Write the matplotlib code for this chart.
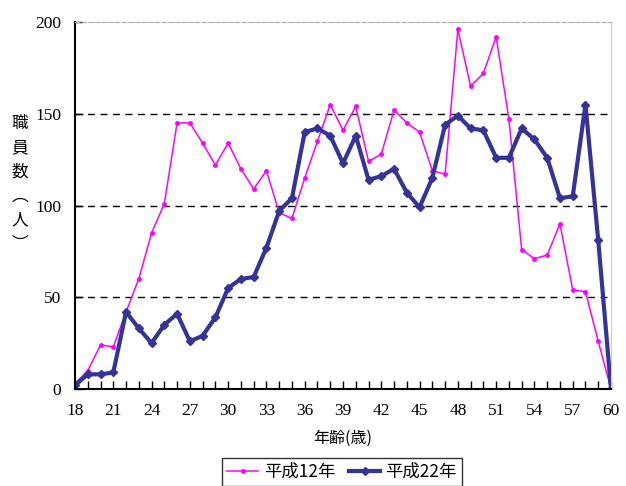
import matplotlib
matplotlib.use('Agg')
import matplotlib.pyplot as plt

plt.rcParams['font.family'] = ['Noto Sans CJK JP', 'DejaVu Sans']

# 年齢別職員数
ages = list(range(18, 61))
h12 = [3, 10, 24, 23, 42, 60, 85, 101, 145, 145, 134, 122, 134, 120, 109, 119,
       96, 93, 115, 135, 155, 141, 154, 124, 128, 152, 145, 140, 119, 117, 196,
       165, 172, 192, 147, 76, 71, 73, 90, 54, 53, 26, 0]
h22 = [2, 8, 8, 9, 42, 33, 25, 35, 41, 26, 29, 39, 55, 60, 61, 77, 97, 104,
       140, 142, 138, 123, 138, 114, 116, 120, 107, 99, 115, 144, 149, 142,
       141, 126, 126, 142, 136, 126, 104, 105, 155, 81, 0]
xticks = list(range(18, 61, 3))
yticks = [0, 50, 100, 150, 200]

W, H = 626, 486
fig = plt.figure(figsize=(W / 100, H / 100), dpi=100)
ax = fig.add_axes([75 / W, 1 - 389 / H, (611 - 75) / W, (389 - 22) / H])

ax.plot(ages, h12, color='#FF00FF', lw=1.1, marker='o', ms=2.5, label='平成12年')
ax.plot(ages, h22, color='#333399', lw=3, marker='D', ms=4.5, label='平成22年')

ax.set_xlim(18, 60)
ax.set_ylim(0, 200)
ax.set_xticks(xticks)
ax.set_xticks(ages, minor=True)
ax.set_yticks(yticks)
for y in [50, 100, 150]:
    ax.axhline(y, color='black', lw=1, ls=(0, (5, 4)), zorder=0)

num_font = dict(family=['Liberation Serif', 'DejaVu Serif'], size=12.5)
ax.set_xticklabels([str(t) for t in xticks], **num_font)
ax.set_yticklabels([str(t) for t in yticks], **num_font)
ax.tick_params(axis='both', direction='in', length=6, width=1, pad=10)
ax.tick_params(axis='x', which='minor', direction='in', length=6, width=1)

ax.spines['left'].set_linewidth(1.5)
ax.spines['bottom'].set_linewidth(1.5)
ax.spines['top'].set_color('#aaaaaa')
ax.spines['top'].set_linestyle((0, (4, 2)))
ax.spines['right'].set_color('#cccccc')

ax.set_xlabel('年齢(歳)', fontsize=11.5, labelpad=8)
fig.text(20 / W, 1 - 184 / H, '職\n員\n数\n︵\n人\n︶', ha='center', va='center',
         fontsize=12, linespacing=1.55)

leg = fig.legend(loc='upper left', bbox_to_anchor=(222 / W, 1 - 458 / H), ncol=2,
                 fontsize=12.5, frameon=True, fancybox=False, edgecolor='black',
                 handlelength=1.8, handletextpad=0.3, columnspacing=0.8,
                 borderpad=0.3, borderaxespad=0)
leg.get_frame().set_linewidth(1)

fig.savefig('out.png', dpi=100, facecolor='white')
